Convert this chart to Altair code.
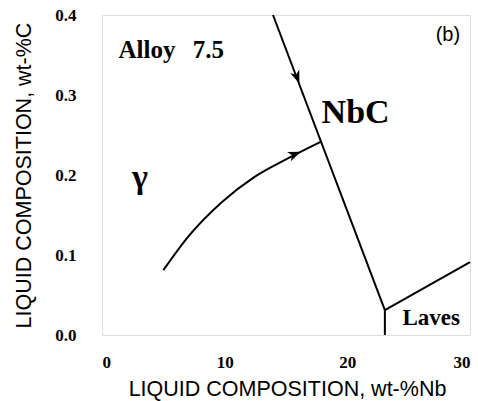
import altair as alt
import pandas as pd

# ---- data ----
gamma_x = [5.0, 7.03, 9.76, 12.47, 15.19, 17.91]
gamma_y = [0.081, 0.123, 0.166, 0.198, 0.221, 0.242]

nbc_x = [13.94, 23.06]
nbc_y = [0.40, 0.031]

laves_x = [23.06, 30.0]
laves_y = [0.031, 0.091]

stem_x = [23.06, 23.06]
stem_y = [0.031, 0.0]

x_ticks = [0, 10, 20, 30]
y_ticks = [0.0, 0.1, 0.2, 0.3, 0.4]

# arrowheads: position and direction (deg, clockwise from +x)
arrow_x = [15.9, 15.73]
arrow_y = [0.322, 0.226]
arrow_dir = [69, 338]

def seg(name, xs, ys):
    return pd.DataFrame({"s": name, "x": xs, "y": ys, "o": list(range(len(xs)))})

straight = pd.concat([seg("nbc", nbc_x, nbc_y),
                      seg("laves", laves_x, laves_y),
                      seg("stem", stem_x, stem_y)])
gamma = seg("gamma", gamma_x, gamma_y)
arrows = pd.DataFrame({"x": arrow_x, "y": arrow_y, "a": arrow_dir})

xs = alt.Scale(domain=[0, 30], nice=False, zero=False)
ys = alt.Scale(domain=[0, 0.4], nice=False, zero=False)

X = alt.X("x:Q", scale=xs, axis=alt.Axis(
    values=x_ticks, title="LIQUID COMPOSITION, wt-%Nb", format="d",
    grid=False, ticks=False, domain=False,
    labelFont="Liberation Serif", labelFontWeight="bold", labelFontSize=17,
    labelColor="black", labelPadding=19,
    titleFont="Liberation Sans", titleFontWeight="normal", titleFontSize=21.5,
    titleColor="black", titleX=185, titleY=54, titleAlign="center",
    titleBaseline="middle"))
Y = alt.Y("y:Q", scale=ys, axis=alt.Axis(
    values=y_ticks, title="LIQUID COMPOSITION, wt-%C", format=".1f",
    grid=False, ticks=False, domain=False,
    labelFont="Liberation Serif", labelFontWeight="bold", labelFontSize=17,
    labelColor="black", labelPadding=26,
    titleFont="Liberation Sans", titleFontWeight="normal", titleFontSize=21.5,
    titleColor="black", titleX=-78, titleY=160, titleAngle=270,
    titleAlign="center", titleBaseline="middle"))

lines = alt.Chart(straight).mark_line(color="black", strokeWidth=2).encode(
    x=X, y=Y, detail="s:N", order="o:Q")
gcurve = alt.Chart(gamma).mark_line(color="black", strokeWidth=2,
                                    interpolate="monotone").encode(
    x="x:Q", y="y:Q", order="o:Q")

arrow_path = "M1,0 L-1,-0.75 L-0.45,0 L-1,0.75 Z"
heads = alt.Chart(arrows).mark_point(shape=arrow_path, filled=True,
                                     color="black", opacity=1, size=170).encode(
    x="x:Q", y="y:Q", angle=alt.Angle("a:Q", scale=None))

def label(text, x, y, size, font="Liberation Serif", weight="bold",
          align="left", baseline="alphabetic"):
    return alt.Chart().mark_text(text=text, font=font, fontWeight=weight,
                                 fontSize=size, color="black", align=align,
                                 baseline=baseline).encode(
        x=alt.datum(x), y=alt.datum(y))

texts = [
    label("Alloy", 1.35, 0.346, 25),
    label("7.5", 7.4, 0.346, 25),
    label("NbC", 17.9, 0.265, 34),
    label("γ", 3.1, 0.184, 34, weight="bold", align="center"),
    label("Laves", 24.5, 0.0125, 23),
    label("(b)", 28.2, 0.375, 20, font="Liberation Sans", weight="normal",
          align="center", baseline="middle"),
]

chart = alt.layer(lines, gcurve, heads, *texts).properties(
    width=368, height=320,
    autosize=alt.AutoSizeParams(type="none"),
    padding={"left": 102, "top": 15, "right": 8, "bottom": 66},
).configure_view(
    stroke="#c4c4c4", strokeDash=[1, 6], strokeWidth=1
).configure(background="white")

chart.save("out.html", embed_options={"renderer": "svg", "actions": False})
